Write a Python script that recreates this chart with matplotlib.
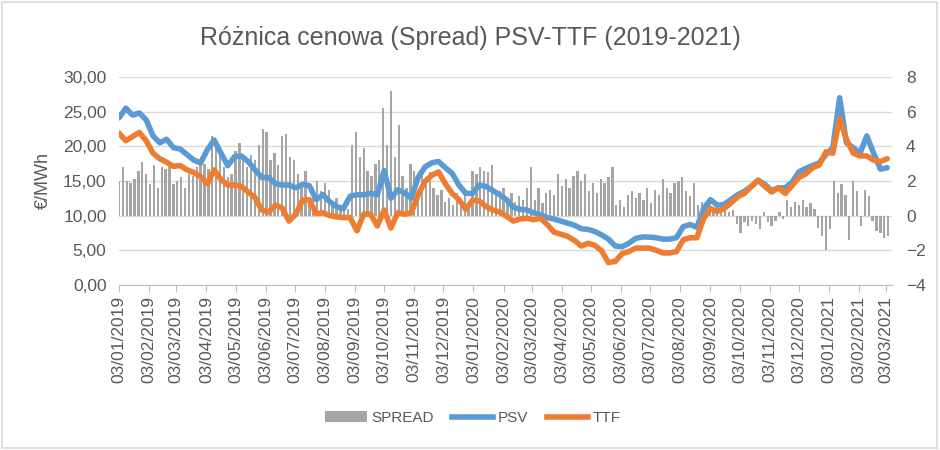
import pandas as pd
import matplotlib
matplotlib.use('Agg')
from matplotlib import pyplot as plt
from matplotlib import dates as mdates
from matplotlib.patches import Rectangle, Patch
from matplotlib.lines import Line2D
from matplotlib.ticker import FuncFormatter

plt.rcParams['font.family'] = ['Liberation Sans', 'DejaVu Sans']

# weekly prices, EUR/MWh, first value on 03/01/2019
psv = [24.1, 25.5, 24.5, 24.8, 23.8, 21.5, 20.5, 21.0, 19.8, 19.6,
       18.8, 18.0, 17.6, 19.5, 20.9, 19.0, 17.2, 18.5, 18.6, 17.8,
       16.6, 15.5, 15.5, 14.6, 14.4, 14.4, 14.0, 14.5, 14.3, 12.3,
       13.0, 12.0, 11.3, 11.0, 12.8, 13.0, 13.0, 13.2, 13.0, 16.5,
       12.5, 13.7, 13.3, 12.5, 15.5, 17.0, 17.6, 17.8, 16.9, 16.1,
       14.4, 13.2, 13.2, 14.4, 14.2, 13.6, 13.0, 12.3, 11.2, 10.9,
       10.8, 10.4, 10.1, 9.7, 9.5, 9.2, 8.9, 8.6, 8.1, 8.0,
       7.7, 7.2, 6.6, 5.6, 5.5, 6.0, 6.7, 6.9, 6.9, 6.8,
       6.6, 6.6, 6.8, 8.4, 8.7, 8.3, 11.0, 12.3, 11.5, 11.6,
       12.3, 13.0, 13.5, 14.2, 15.1, 14.5, 13.6, 14.0, 14.0, 14.8,
       16.3, 16.8, 17.2, 17.6, 18.8, 19.8, 27.0, 20.5, 19.8, 19.0,
       21.5, 19.0, 16.7, 16.9]
ttf = [21.9, 20.8, 21.4, 22.0, 20.8, 19.0, 18.2, 17.7, 17.1, 17.2,
       16.6, 16.2, 15.6, 14.6, 16.6, 15.2, 14.4, 14.4, 14.2, 13.4,
       12.6, 10.8, 10.5, 11.5, 11.1, 9.2, 10.2, 12.2, 12.3, 10.3,
       10.4, 10.0, 9.8, 9.7, 9.7, 7.8, 10.2, 10.2, 8.5, 10.8,
       8.2, 10.4, 10.2, 10.4, 13.0, 14.9, 15.8, 16.3, 14.6, 13.2,
       12.3, 10.9, 12.2, 12.1, 11.3, 10.8, 10.5, 9.9, 9.2, 9.5,
       9.6, 9.4, 9.6, 8.7, 7.6, 7.3, 7.0, 6.4, 5.6, 6.0,
       5.7, 4.9, 3.2, 3.4, 4.5, 4.8, 5.3, 5.3, 5.3, 5.0,
       4.6, 4.6, 4.8, 6.5, 6.8, 6.8, 9.6, 11.0, 10.6, 11.0,
       11.8, 12.7, 13.2, 14.2, 15.1, 14.2, 13.4, 14.0, 13.2, 14.3,
       15.5, 16.0, 16.9, 17.3, 19.2, 19.0, 24.0, 21.0, 19.0, 18.6,
       18.6, 18.0, 17.8, 18.2]

# spread PSV-TTF every 4 days (right axis)
spread = [2.0, 2.8, 2.0, 1.9, 2.1, 2.6, 3.1, 2.4, 1.8, 2.9,
          1.6, 2.8, 2.7, 2.8, 1.8, 2.0, 2.2, 1.6, 2.4, 2.3,
          2.8, 2.9, 3.0, 2.7, 4.6, 3.9, 3.5, 2.8, 2.2, 2.4,
          3.7, 4.2, 3.4, 2.8, 3.5, 3.2, 4.1, 5.0, 4.8, 3.2,
          3.6, 2.9, 4.6, 4.7, 3.4, 3.2, 2.4, 1.8, 2.6, 0.8,
          1.6, 2.0, 1.4, 1.9, 1.5, 0.8, 1.0, 0.6, 0.5, 0.4,
          4.1, 4.8, 3.4, 3.9, 2.6, 2.3, 3.0, 3.2, 6.2, 4.1,
          7.2, 3.4, 5.2, 2.3, 1.6, 3.0, 2.6, 1.4, 2.7, 2.2,
          2.5, 1.6, 1.2, 1.5, 0.8, 1.0, 0.6, 1.3, 0.9, 1.5,
          0.7, 2.6, 2.4, 2.8, 2.6, 2.5, 2.9, 1.5, 1.4, 1.6,
          1.0, 1.3, 0.8, 1.1, 0.9, 1.6, 2.8, 0.9, 1.6, 0.7,
          1.3, 1.5, 1.2, 2.4, 1.7, 2.1, 1.6, 2.3, 2.6, 2.0,
          2.4, 1.4, 1.9, 1.3, 2.1, 1.9, 2.2, 2.8, 0.6, 0.9,
          0.5, 1.2, 1.4, 1.0, 1.3, 0.9, 1.6, 0.7, 1.5, 1.2,
          2.1, 1.6, 1.3, 1.9, 2.0, 2.2, 1.4, 1.1, 1.9, 0.6,
          0.8, 0.5, 0.7, 0.4, 0.6, 0.3, 0.4, 0.2, 0.3, -0.5,
          -1.0, -0.4, -0.6, -0.3, -0.5, -0.8, 0.2, -0.4, -0.6, -0.3,
          0.2, -0.2, 0.9, 0.5, 0.8, 0.6, 0.9, 0.5, 0.7, 0.4,
          -0.7, -1.2, -2.0, -0.8, 2.0, 1.3, 1.8, 1.2, -1.4, 2.0,
          1.4, -0.6, 1.5, 1.1, -0.3, -0.9, -1.0, -1.3, -1.2]

line_dates = pd.date_range('2019-01-03', periods=len(psv), freq='7D')
bar_dates = pd.date_range('2019-01-03', periods=len(spread), freq='4D')
tick_dates = pd.date_range('2019-01-01', '2021-03-01', freq='MS') + pd.Timedelta(days=2)

grey_txt = '#595959'
fig = plt.figure(figsize=(9.4, 4.5), dpi=100)
ax = fig.add_axes([0.1266, 0.367, 0.8224, 0.462])
ax2 = ax.twinx()

# bars + grid on the secondary axis, lines on top
ax2.bar(bar_dates, spread, width=2.4, color='#A5A5A5', zorder=2)
ax2.set_ylim(-4, 8)
ax2.set_yticks(range(-4, 9, 2))
ax2.grid(axis='y', color='#D9D9D9', linewidth=1, zorder=0)
ax2.set_axisbelow(True)

ax.set_zorder(ax2.get_zorder() + 1)
ax.patch.set_visible(False)
ax.plot(line_dates, psv, color='#5B9BD5', linewidth=4, solid_capstyle='round',
        solid_joinstyle='round')
ax.plot(line_dates, ttf, color='#ED7D31', linewidth=4, solid_capstyle='round',
        solid_joinstyle='round')
ax.set_ylim(0, 30)
ax.set_yticks(range(0, 31, 5))
ax.yaxis.set_major_formatter(FuncFormatter(lambda v, p: f'{v:.2f}'.replace('.', ',')))
ax.set_xlim(pd.Timestamp('2019-01-03'), pd.Timestamp('2021-03-09'))
ax.set_xticks(tick_dates)
ax.xaxis.set_major_formatter(mdates.DateFormatter('%d/%m/%Y'))

for a in (ax, ax2):
    for s in a.spines.values():
        s.set_visible(False)
ax.spines['bottom'].set_visible(True)
ax.spines['bottom'].set_color('#BFBFBF')
ax.tick_params(axis='x', rotation=90, labelsize=12.5, colors=grey_txt,
               length=5, color='#BFBFBF', pad=3)
ax.tick_params(axis='y', labelsize=12.5, colors=grey_txt, length=0, pad=9)
ax2.tick_params(axis='y', labelsize=12.5, colors=grey_txt, length=0, pad=10)
for lab in ax.get_xticklabels():
    lab.set_color(grey_txt)

ax.set_ylabel('€/MWh', fontsize=13, color=grey_txt, labelpad=8)
fig.text(0.5, 0.915, 'Różnica cenowa (Spread) PSV-TTF (2019-2021)',
         ha='center', va='center', fontsize=18, color=grey_txt)

handles = [Patch(facecolor='#A5A5A5', edgecolor='none'),
           Line2D([], [], color='#5B9BD5', linewidth=4),
           Line2D([], [], color='#ED7D31', linewidth=4)]
fig.legend(handles, ['SPREAD', 'PSV', 'TTF'], loc='center', bbox_to_anchor=(0.503, 0.071),
           ncol=3, frameon=False, fontsize=11, handlelength=2.7, columnspacing=1.2,
           handletextpad=0.3, labelcolor=grey_txt)

fig.patches.append(Rectangle((0.002, 0.004), 0.995, 0.992, transform=fig.transFigure,
                             fill=False, edgecolor='#D9D9D9', linewidth=1.2))

fig.savefig('out.png', dpi=100)
